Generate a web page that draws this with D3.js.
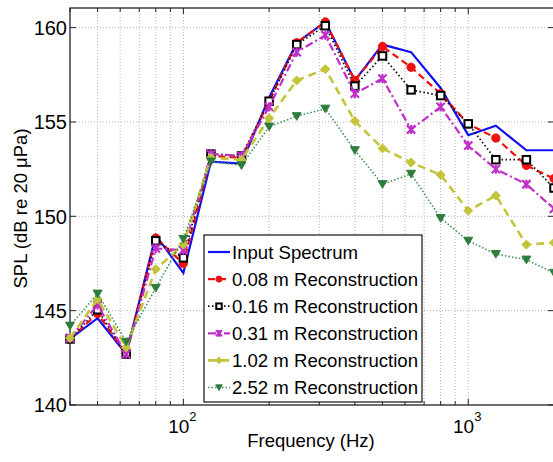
<!DOCTYPE html>
<html><head><meta charset="utf-8">
<script src="https://cdn.jsdelivr.net/npm/d3@7/dist/d3.min.js"></script>
<style>body{margin:0;background:#fff;overflow:hidden}svg{display:block}text{font-family:"Liberation Sans",Arial,sans-serif;fill:#000}</style>
</head><body><svg id="c" width="553" height="462"></svg>
<script>
const freqs = [40,50,63,80,100,125,160,200,250,315,400,500,630,800,1000,1250,1600,2000];
const inputSpectrum = [143.5,144.6,142.7,149.0,147.0,152.9,152.8,156.3,159.2,160.3,157.2,159.1,158.7,156.8,154.3,154.8,153.5,153.5];
const rec008 = [143.5,144.85,142.7,148.85,147.5,153.2,153.1,156.1,159.2,160.3,157.2,159.0,157.9,156.5,154.9,154.15,152.7,152.0];
const rec016 = [143.5,145.05,142.7,148.7,147.8,153.3,153.2,156.1,159.1,160.1,156.9,158.5,156.7,156.4,154.9,153.0,153.0,151.5];
const rec031 = [143.55,145.3,142.7,148.3,148.2,153.3,153.2,155.8,158.7,159.6,156.5,157.3,154.6,155.8,153.75,152.5,151.7,150.4];
const rec102 = [143.55,145.6,143.05,147.2,148.5,153.1,153.0,155.2,157.2,157.8,155.05,153.6,152.85,152.2,150.3,151.1,148.5,148.6];
const rec252 = [144.2,145.9,143.35,146.2,148.8,152.9,152.7,154.75,155.3,155.7,153.5,151.7,152.25,149.9,148.7,148.0,147.7,147.0];
const seriesNames = ["Input Spectrum","0.08 m Reconstruction","0.16 m Reconstruction","0.31 m Reconstruction","1.02 m Reconstruction","2.52 m Reconstruction"];
const yTicks = [140,145,150,155,160];
const xMajorTicks = [100,1000];
const xTickLabels = ["2","3"];

const seriesData = [inputSpectrum, rec008, rec016, rec031, rec102, rec252];
const styles = [
  {color:"#1010f0", w:2.2, dash:null, marker:null},
  {color:"#f01010", w:2.2, dash:"7,4", marker:"circle", fill:"#f01010"},
  {color:"#111", w:1.8, dash:"1.5,2.5", marker:"square", fill:"#fff"},
  {color:"#c030c8", w:2.2, dash:"8,3,2,3", marker:"x", fill:"#c030c8"},
  {color:"#c4c43a", w:2.6, dash:"8,5", marker:"diamond", fill:"#c4c43a"},
  {color:"#3f9450", w:1.6, dash:"1.5,2", marker:"triangle", fill:"#2f7d3e"}
];

const L=70, R=554, T=8, B=405;
const svg = d3.select("#c");
const x = d3.scaleLog().domain([40,2000]).range([L,R]);
const y = d3.scaleLinear().domain([140,161.04]).range([B,T]);

const xAll = [];
[10,100,1000].forEach(d=>{for(let k=1;k<10;k++){const v=d*k; if(v>=40&&v<=2000) xAll.push(v);} });
xAll.push(2000);

const g = svg.append("g");
g.selectAll(".vg").data(xAll.filter(v=>v>40&&v<2000)).enter().append("line")
  .attr("x1",d=>x(d)).attr("x2",d=>x(d)).attr("y1",T).attr("y2",B)
  .attr("stroke","#b4b4b4").attr("stroke-width",1).attr("stroke-dasharray","1,2");
g.selectAll(".hg").data(yTicks.filter(v=>v>140)).enter().append("line")
  .attr("x1",L).attr("x2",R).attr("y1",d=>y(d)).attr("y2",d=>y(d))
  .attr("stroke","#b4b4b4").attr("stroke-width",1).attr("stroke-dasharray","1,2");

function xticks(y0, dir){
  g.selectAll(null).data(xAll).enter().append("line")
   .attr("x1",d=>x(d)).attr("x2",d=>x(d)).attr("y1",y0).attr("y2",d=>y0+dir*(xMajorTicks.includes(d)?6:4))
   .attr("stroke","#222").attr("stroke-width",1);
}
xticks(B,-1); xticks(T,1);
[L,R].forEach((x0,i)=>{
  g.selectAll(null).data(yTicks).enter().append("line")
   .attr("x1",x0).attr("x2",x0+(i?-6:6)).attr("y1",d=>y(d)).attr("y2",d=>y(d))
   .attr("stroke","#222").attr("stroke-width",1);
});
g.append("rect").attr("x",L).attr("y",T).attr("width",R-L).attr("height",B-T)
  .attr("fill","none").attr("stroke","#222").attr("stroke-width",1.3);

g.selectAll(".yl").data(yTicks).enter().append("text")
  .attr("x",L-3).attr("y",d=>y(d)).attr("dy","0.36em").attr("text-anchor","end")
  .attr("font-size",20).text(d=>d);
xMajorTicks.forEach((v,i)=>{
  const t = g.append("text").attr("x",x(v)-1).attr("y",433).attr("text-anchor","middle").attr("font-size",19);
  t.append("tspan").text("10");
  t.append("tspan").attr("dy",-12).attr("font-size",13).text(xTickLabels[i]);
});
svg.append("text").attr("x",(L+R)/2-1).attr("y",447).attr("text-anchor","middle").attr("font-size",18.5).text("Frequency (Hz)");
svg.append("text").attr("transform",`translate(27,${(T+B)/2+2}) rotate(-90)`).attr("text-anchor","middle").attr("font-size",18.5).text("SPL (dB re 20 μPa)");

function drawMarker(sel, type, st, size){
  const s = size;
  if(type==="circle") sel.append("circle").attr("r",s*0.55).attr("fill",st.fill).attr("stroke",st.color).attr("stroke-width",1);
  else if(type==="square") sel.append("rect").attr("x",-s*0.5).attr("y",-s*0.5).attr("width",s).attr("height",s).attr("fill","#fff").attr("stroke","#000").attr("stroke-width",2);
  else if(type==="x"){ const h=s*0.55;
    sel.append("path").attr("d",`M${-h},${-h}L${h},${h}M${-h},${h}L${h},${-h}M0,${-h*1.1}L0,${h*1.1}`).attr("stroke",st.color).attr("stroke-width",2.2).attr("fill","none");}
  else if(type==="diamond"){ const h=s*0.6;
    sel.append("path").attr("d",`M0,${-h}L${h},0L0,${h}L${-h},0Z`).attr("fill",st.fill).attr("stroke",st.fill).attr("stroke-width",1);}
  else if(type==="triangle"){ const h=s*0.6;
    sel.append("path").attr("d",`M${-h},${-h*0.8}L${h},${-h*0.8}L0,${h*0.9}Z`).attr("fill",st.fill).attr("stroke",st.fill).attr("stroke-width",1);}
}

const line = d3.line().x((d,i)=>x(freqs[i])).y(d=>y(d));
const plotG = svg.append("g");
seriesData.forEach((vals,si)=>{
  const st = styles[si];
  plotG.append("path").datum(vals).attr("d",line).attr("fill","none")
    .attr("stroke",st.color).attr("stroke-width",st.w).attr("stroke-dasharray",st.dash)
    .attr("stroke-linejoin","miter");
  if(st.marker){
    vals.forEach((v,i)=>{
      const mg = plotG.append("g").attr("transform",`translate(${x(freqs[i])},${y(v)})`);
      drawMarker(mg, st.marker, st, 7.5);
    });
  }
});

const lg = svg.append("g");
lg.append("rect").attr("x",204).attr("y",235).attr("width",218).attr("height",167)
  .attr("fill","#fff").attr("stroke","#111").attr("stroke-width",1.2);
seriesNames.forEach((name,i)=>{
  const yy = 252 + i*27.1;
  const st = styles[i];
  lg.append("line").attr("x1",208).attr("x2",230).attr("y1",yy).attr("y2",yy)
    .attr("stroke",st.color).attr("stroke-width",st.w).attr("stroke-dasharray",st.dash);
  if(st.marker){
    const mg = lg.append("g").attr("transform",`translate(219,${yy})`);
    drawMarker(mg, st.marker, st, 5.5);
  }
  lg.append("text").attr("x",232).attr("y",yy).attr("dy","0.37em").attr("font-size",18.6).text(name);
});
</script></body></html>
